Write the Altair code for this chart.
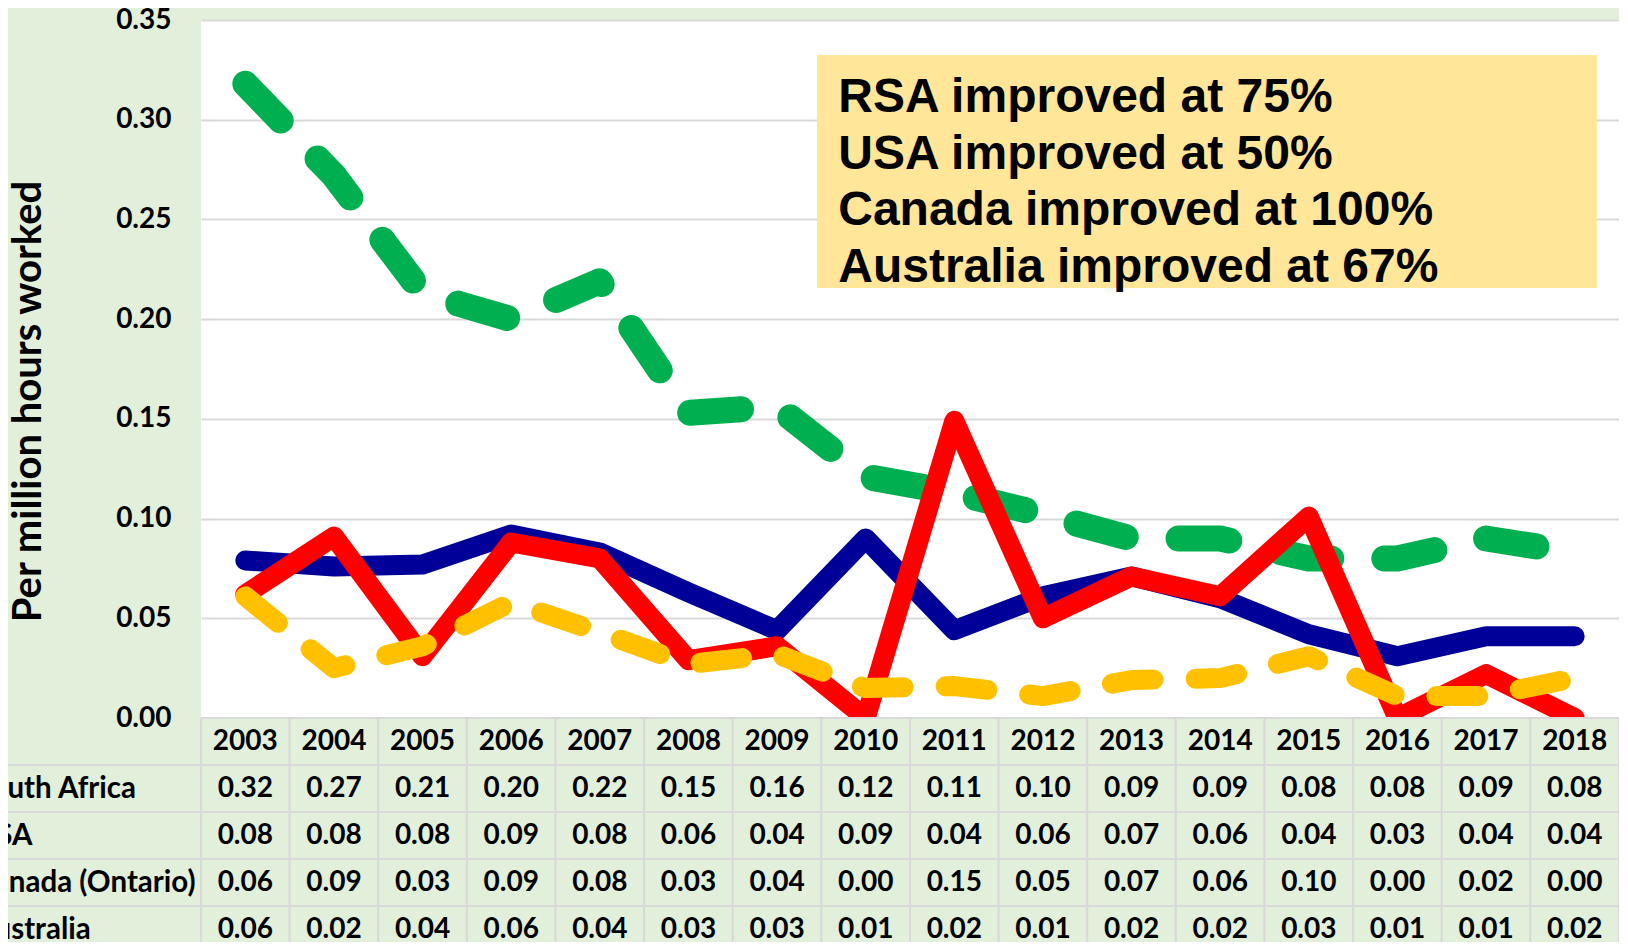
import altair as alt
import pandas as pd

# ---------------- data ----------------
years = list(range(2003, 2019))

# plotted series
south_africa = [0.318, 0.272, 0.213, 0.200, 0.219, 0.153, 0.156, 0.121, 0.113, 0.102,
                0.090, 0.090, 0.080, 0.080, 0.090, 0.083]
usa = [0.079, 0.076, 0.077, 0.092, 0.083, 0.063, 0.044, 0.090, 0.044, 0.061,
       0.071, 0.060, 0.042, 0.031, 0.041, 0.041]
canada = [0.062, 0.091, 0.031, 0.088, 0.080, 0.029, 0.036, 0.000, 0.149, 0.050,
          0.071, 0.061, 0.101, 0.000, 0.022, 0.000]
australia = [0.061, 0.025, 0.036, 0.058, 0.043, 0.027, 0.032, 0.015, 0.016, 0.011,
             0.019, 0.020, 0.031, 0.011, 0.011, 0.020]

# data table values (as printed)
tab_south_africa = [0.32, 0.27, 0.21, 0.20, 0.22, 0.15, 0.16, 0.12, 0.11, 0.10, 0.09, 0.09, 0.08, 0.08, 0.09, 0.08]
tab_usa = [0.08, 0.08, 0.08, 0.09, 0.08, 0.06, 0.04, 0.09, 0.04, 0.06, 0.07, 0.06, 0.04, 0.03, 0.04, 0.04]
tab_canada = [0.06, 0.09, 0.03, 0.09, 0.08, 0.03, 0.04, 0.00, 0.15, 0.05, 0.07, 0.06, 0.10, 0.00, 0.02, 0.00]
tab_australia = [0.06, 0.02, 0.04, 0.06, 0.04, 0.03, 0.03, 0.01, 0.02, 0.01, 0.02, 0.02, 0.03, 0.01, 0.01, 0.02]

series_names = ["South Africa", "USA", "Canada (Ontario)", "Australia"]
series_colors = ["#00B050", "#000099", "#FF0000", "#FFC000"]
series_widths = [26, 20, 20, 20]
series_dashes = [[51, 53], None, None, [42, 42]]

note_lines = ["RSA improved at 75%", "USA improved at 50%",
              "Canada improved at 100%", "Australia improved at 67%"]

y_ticks = [0.0, 0.05, 0.10, 0.15, 0.20, 0.25, 0.30, 0.35]
y_title = "Per million hours worked"

# ---------------- layout ----------------
W, H = 1418, 698
ROW_H = 47
N_ROWS = 5
PAD_L, PAD_T = 193, 12
TOTAL_H = 934

BG = "#E2EFDA"
GRID = "#D9D9D9"
FONT = "Lato"

# ---------------- frames ----------------
values = [south_africa, usa, canada, australia]
lines_df = pd.DataFrame([
    {"series": s, "pos": i + 0.5, "value": v}
    for s, vals in zip(series_names, values)
    for i, v in enumerate(vals)
])

tables = [tab_south_africa, tab_usa, tab_canada, tab_australia]
cells = []
for i, y in enumerate(years):
    cells.append({"c0": i, "c1": i + 1, "cc": i + 0.5, "r0": 0, "r1": 1, "rc": 0.5, "text": str(y)})
for r, tab in enumerate(tables, start=1):
    for i, v in enumerate(tab):
        cells.append({"c0": i, "c1": i + 1, "cc": i + 0.5, "r0": r, "r1": r + 1,
                      "rc": r + 0.5, "text": f"{v:.2f}"})
cells_df = pd.DataFrame(cells)

labels_df = pd.DataFrame([
    {"c0": -3, "c1": 0, "cl": -2.557, "r0": r, "r1": r + 1, "rc": r + 0.5, "text": name}
    for r, name in enumerate(series_names, start=1)
])

box_df = pd.DataFrame([{"x0": 6.95, "x1": 15.75, "y0": 0.2156, "y1": 0.3325}])
note_df = pd.DataFrame([
    {"x": 7.19, "y": 0.3039 - k * 0.02845, "text": t} for k, t in enumerate(note_lines)
])

# ---------------- scales / axes ----------------
x_scale = alt.Scale(domain=[0, len(years)], nice=False, zero=False)
y_scale = alt.Scale(domain=[0, 0.35], nice=False, zero=False)
t_scale = alt.Scale(domain=[0, N_ROWS], range=[H, H + N_ROWS * ROW_H], nice=False, zero=False)

y_axis = alt.Axis(
    values=y_ticks, format=".2f", grid=True, gridColor=GRID, gridWidth=2,
    domain=False, ticks=False, labelPadding=30,
    labelFont=FONT, labelFontSize=28, labelFontWeight="bold", labelColor="black",
    title=y_title, titleFont=FONT, titleFontSize=40, titleFontWeight="bold",
    titleColor="black", titleAngle=270, titleX=-173, titleY=381,
    titleAlign="center", titleBaseline="middle",
)

# ---------------- plot layers ----------------
box = alt.Chart(box_df).mark_rect(fill="#FFE699").encode(
    x=alt.X("x0:Q", scale=x_scale, axis=None), x2="x1:Q",
    y=alt.Y("y0:Q", scale=y_scale, axis=y_axis), y2="y1:Q",
)

note = alt.Chart(note_df).mark_text(
    align="left", baseline="alphabetic", font="Liberation Sans",
    fontSize=48, fontWeight="bold", color="black",
).encode(
    x=alt.X("x:Q", scale=x_scale, axis=None),
    y=alt.Y("y:Q", scale=y_scale, axis=y_axis),
    text="text:N",
)

line_layers = []
for name, color, width, dash in zip(series_names, series_colors, series_widths, series_dashes):
    kw = dict(color=color, strokeWidth=width, strokeCap="round", strokeJoin="round", clip=True)
    if dash:
        kw["strokeDash"] = dash
    line_layers.append(
        alt.Chart(lines_df).transform_filter(alt.datum.series == name).mark_line(**kw).encode(
            x=alt.X("pos:Q", scale=x_scale, axis=None),
            y=alt.Y("value:Q", scale=y_scale, axis=y_axis),
        )
    )

plot = alt.layer(box, note, *line_layers)

# ---------------- table layers ----------------
cell_rects = alt.Chart(cells_df).mark_rect(fill=BG, stroke=GRID, strokeWidth=2).encode(
    x=alt.X("c0:Q", scale=x_scale, axis=None), x2="c1:Q",
    y=alt.Y("r0:Q", scale=t_scale, axis=None), y2="r1:Q",
)
cell_text = alt.Chart(cells_df).mark_text(
    align="center", baseline="middle", font=FONT, fontSize=28, fontWeight="bold", color="black",
).encode(
    x=alt.X("cc:Q", scale=x_scale, axis=None),
    y=alt.Y("rc:Q", scale=t_scale, axis=None),
    text="text:N",
)
label_rects = alt.Chart(labels_df).mark_rect(fill=BG, stroke=GRID, strokeWidth=2).encode(
    x=alt.X("c0:Q", scale=x_scale, axis=None), x2="c1:Q",
    y=alt.Y("r0:Q", scale=t_scale, axis=None), y2="r1:Q",
)
label_text = alt.Chart(labels_df).mark_text(
    align="left", baseline="middle", font=FONT, fontSize=29.5, fontWeight="bold", color="black",
).encode(
    x=alt.X("cl:Q", scale=x_scale, axis=None),
    y=alt.Y("rc:Q", scale=t_scale, axis=None),
    text="text:N",
)

table = alt.layer(cell_rects, label_rects, cell_text, label_text)

chart = alt.layer(plot, table).resolve_scale(y="independent").properties(
    width=W, height=H,
    autosize=alt.AutoSizeParams(type="none"),
    padding={"left": PAD_L, "top": PAD_T, "right": 0, "bottom": TOTAL_H - H - PAD_T},
    background=BG,
).configure_view(fill="white", strokeWidth=0)

chart.save("out.html", embed_options={"renderer": "svg", "actions": False})
